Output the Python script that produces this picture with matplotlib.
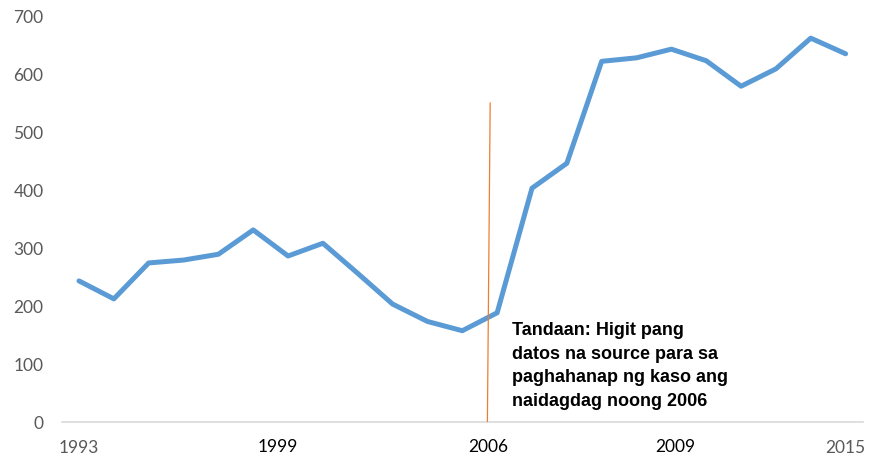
import matplotlib.pyplot as plt
import numpy as np

years = list(range(1993, 2016))
cases = [244, 213, 275, 280, 290, 332, 287, 309, 257, 204, 174, 158, 189,
         404, 447, 623, 629, 644, 624, 580, 610, 663, 636]

yticks = [0, 100, 200, 300, 400, 500, 600, 700]
edge_labels = [1993, 2015]
# extra year labels placed by hand in the original (text boxes)
extra_labels = ["1999", "2006", "2009"]
extra_pos = [1998.71, 2004.74, 2010.10]

note = "Tandaan: Higit pang\ndatos na source para sa\npaghahanap ng kaso ang\nnaidagdag noong 2006"

plt.rcParams['font.family'] = ['Lato', 'DejaVu Sans']

fig = plt.figure(figsize=(8.81, 4.59), dpi=100)
ax = fig.add_axes([0.0699, 0.0800, 0.9097, 0.8836])

ax.plot(years, cases, color='#5b9bd5', lw=3.6,
        solid_capstyle='round', solid_joinstyle='round', zorder=3)

# marker line at 2006
ax.plot([2004.72, 2004.80], [0, 551], color='#ed7d31', lw=0.9, zorder=4)

ax.set_xlim(1992.5, 2015.5)
ax.set_ylim(0, 700)

for s in ['top', 'right', 'left']:
    ax.spines[s].set_visible(False)
ax.spines['bottom'].set_color('#d9d9d9')
ax.spines['bottom'].set_linewidth(1.2)

ax.set_yticks(yticks)
ax.set_xticks(edge_labels)
ax.tick_params(axis='y', length=0, pad=13, labelsize=12.5, labelcolor='#595959')
ax.tick_params(axis='x', length=0, pad=13, labelsize=12.5, labelcolor='#595959')

for lab, xp in zip(extra_labels, extra_pos):
    ax.text(xp, -42, lab, ha='center', va='center', fontsize=12.5,
            color='black', clip_on=False)

ax.text(2005.42, 173, note, ha='left', va='top', fontsize=13,
        fontfamily='Liberation Sans', fontweight='bold', color='black',
        linespacing=1.5)

fig.savefig('out.png', dpi=100)
